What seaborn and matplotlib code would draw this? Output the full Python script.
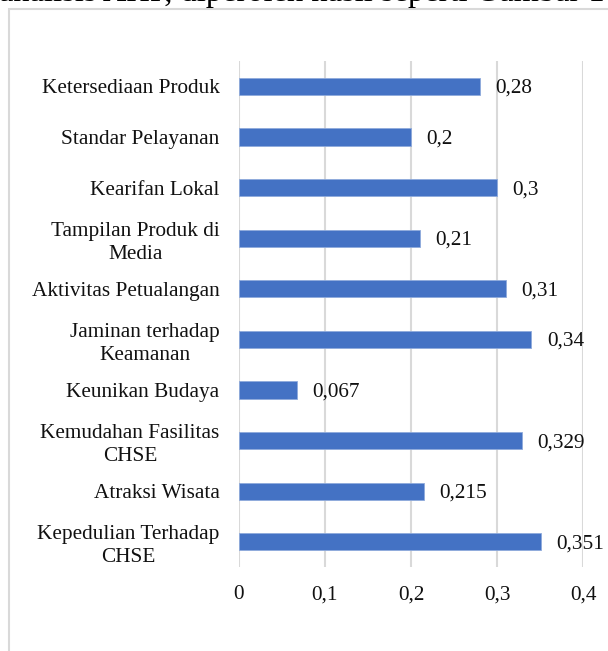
import matplotlib
matplotlib.use('Agg')
import matplotlib.pyplot as plt
import seaborn as sns
import pandas as pd
from matplotlib.patches import Rectangle

# data
categories = [
    'Ketersediaan Produk',
    'Standar Pelayanan',
    'Kearifan Lokal',
    'Tampilan Produk di\nMedia',
    'Aktivitas Petualangan',
    'Jaminan terhadap\nKeamanan',
    'Keunikan Budaya',
    'Kemudahan Fasilitas\nCHSE',
    'Atraksi Wisata',
    'Kepedulian Terhadap\nCHSE',
]
values = [0.28, 0.2, 0.3, 0.21, 0.31, 0.34, 0.067, 0.329, 0.215, 0.351]
x_ticks = [0, 0.1, 0.2, 0.3, 0.4]
x_ticklabels = ['0', '0,1', '0,2', '0,3', '0,4']

df = pd.DataFrame({'kriteria': categories, 'bobot': values})

sns.set_style('white')
plt.rcParams['font.family'] = ['Liberation Serif', 'DejaVu Serif']

fig = plt.figure(figsize=(6.08, 6.51), dpi=100)
ax = fig.add_axes([0.393, 0.129, 0.566, 0.777])

sns.barplot(data=df, x='bobot', y='kriteria', order=categories, orient='h',
            color='#4472C4', saturation=1, width=0.34,
            edgecolor='#8FAADC', linewidth=0.6, ax=ax)

# value labels
for i, v in enumerate(values):
    ax.text(v + 0.018, i + 0.04, str(v).replace('.', ','), va='center',
            ha='left', fontsize=15.3, color='#111111')

ax.set_xlim(0, 0.4)
ax.set_ylim(9.5, -0.5)
ax.set_xticks(x_ticks)
ax.set_xticklabels(x_ticklabels, fontsize=15.3, color='#111111')
ax.tick_params(axis='x', length=0, pad=13)
ax.tick_params(axis='y', length=0, pad=14, labelsize=15.3, labelcolor='#111111')
for lab in ax.get_yticklabels():
    lab.set_multialignment('center')
    lab.set_linespacing(1.3)
ax.set_xlabel('')
ax.set_ylabel('')
ax.xaxis.grid(True, color='#D9D9D9', linewidth=1.5)
ax.set_axisbelow(True)
for s in ax.spines.values():
    s.set_visible(False)

# chart frame (extends beyond the crop)
frame = Rectangle((8.5 / 608, -0.2), 1.2, 1.2 - 8.5 / 651,
                  transform=fig.transFigure, fill=False,
                  edgecolor='#D9D9D9', linewidth=1.5)
fig.patches.append(frame)

# cut-off paragraph text above the chart
fig.text(-0.002, 1 - 1.0 / 651, 'analisis AHP, diperoleh hasil seperti Gambar 1',
         ha='left', va='baseline', fontsize=23.4, color='black')

fig.savefig('out.png', dpi=100)
plt.close()
